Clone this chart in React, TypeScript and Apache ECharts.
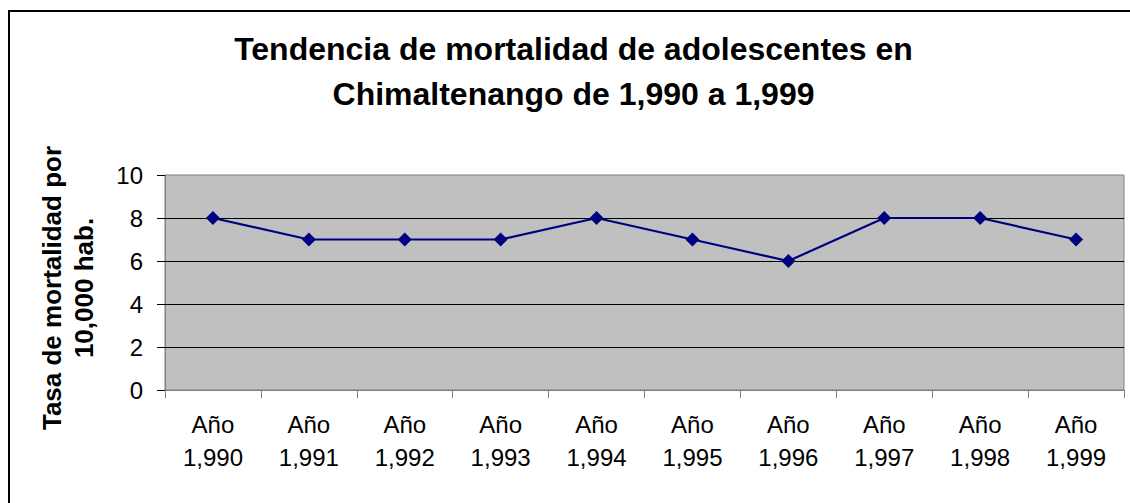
import React, { useEffect, useRef } from "react";
import * as echarts from "echarts";

const categories = [
  "Año\n1,990", "Año\n1,991", "Año\n1,992", "Año\n1,993", "Año\n1,994",
  "Año\n1,995", "Año\n1,996", "Año\n1,997", "Año\n1,998", "Año\n1,999",
];
const values = [8, 7, 7, 7, 8, 7, 6, 8, 8, 7];
const gridValues = [2, 4, 6, 8];
const titleLines = ["Tendencia de mortalidad de adolescentes en", "Chimaltenango de 1,990 a 1,999"];
const yName = ["Tasa de mortalidad por", "10,000 hab."];

const FONT = "'Liberation Sans', Arial, sans-serif";

export default function App() {
  const ref = useRef<HTMLDivElement>(null);
  useEffect(() => {
    if (!ref.current) return;
    const chart = echarts.init(ref.current, undefined, { renderer: "svg" });
    chart.setOption({
      animation: false,
      backgroundColor: "#ffffff",
      textStyle: { fontFamily: FONT },
      grid: {
        left: 165,
        top: 175,
        right: 6,
        bottom: 113,
        show: true,
        backgroundColor: "#C0C0C0",
        borderColor: "#808080",
        borderWidth: 1,
        containLabel: false,
      },
      xAxis: {
        type: "category",
        data: categories,
        boundaryGap: true,
        axisLine: { show: true, lineStyle: { color: "#808080", width: 1 } },
        axisTick: { show: true, length: 8, lineStyle: { color: "#808080" }, alignWithLabel: false },
        axisLabel: {
          color: "#000",
          fontFamily: FONT,
          fontSize: 24,
          lineHeight: 33,
          margin: 18,
          interval: 0,
        },
        splitLine: { show: false },
      },
      yAxis: {
        type: "value",
        min: 0,
        max: 10,
        interval: 2,
        axisLine: { show: true, lineStyle: { color: "#808080", width: 1 } },
        axisTick: { show: true, length: 8, lineStyle: { color: "#000" } },
        axisLabel: { color: "#000", fontFamily: FONT, fontSize: 24, margin: 22 },
        splitLine: { show: false },
      },
      series: [
        {
          type: "line",
          data: values,
          symbol: "diamond",
          symbolSize: 14,
          lineStyle: { color: "#000080", width: 2.2 },
          itemStyle: { color: "#000080" },
          markLine: {
            silent: true,
            symbol: "none",
            label: { show: false },
            lineStyle: { color: "#000", width: 1, type: "solid" },
            data: gridValues.map((v) => ({ yAxis: v })),
            z: 1,
          },
          z: 3,
        },
      ],
      graphic: [
        {
          type: "rect",
          shape: { x: 9, y: 11, width: 1200, height: 700 },
          style: { fill: "none", stroke: "#000", lineWidth: 2 },
          silent: true,
        },
        {
          type: "text",
          x: 573.5,
          y: 26,
          style: {
            text: titleLines.join("\n"),
            font: `bold 32px ${FONT}`,
            fill: "#000",
            align: "center",
            verticalAlign: "top",
            lineHeight: 45,
          },
        },
        {
          type: "text",
          x: 68,
          y: 288,
          rotation: Math.PI / 2,
          style: {
            text: yName.join("\n"),
            font: `bold 26px ${FONT}`,
            fill: "#000",
            align: "center",
            verticalAlign: "middle",
            lineHeight: 32,
          },
        },
      ],
    });
    return () => chart.dispose();
  }, []);
  return (
    <div
      ref={ref}
      style={{ position: "absolute", left: 0, top: 0, width: 1130, height: 503 }}
    />
  );
}
